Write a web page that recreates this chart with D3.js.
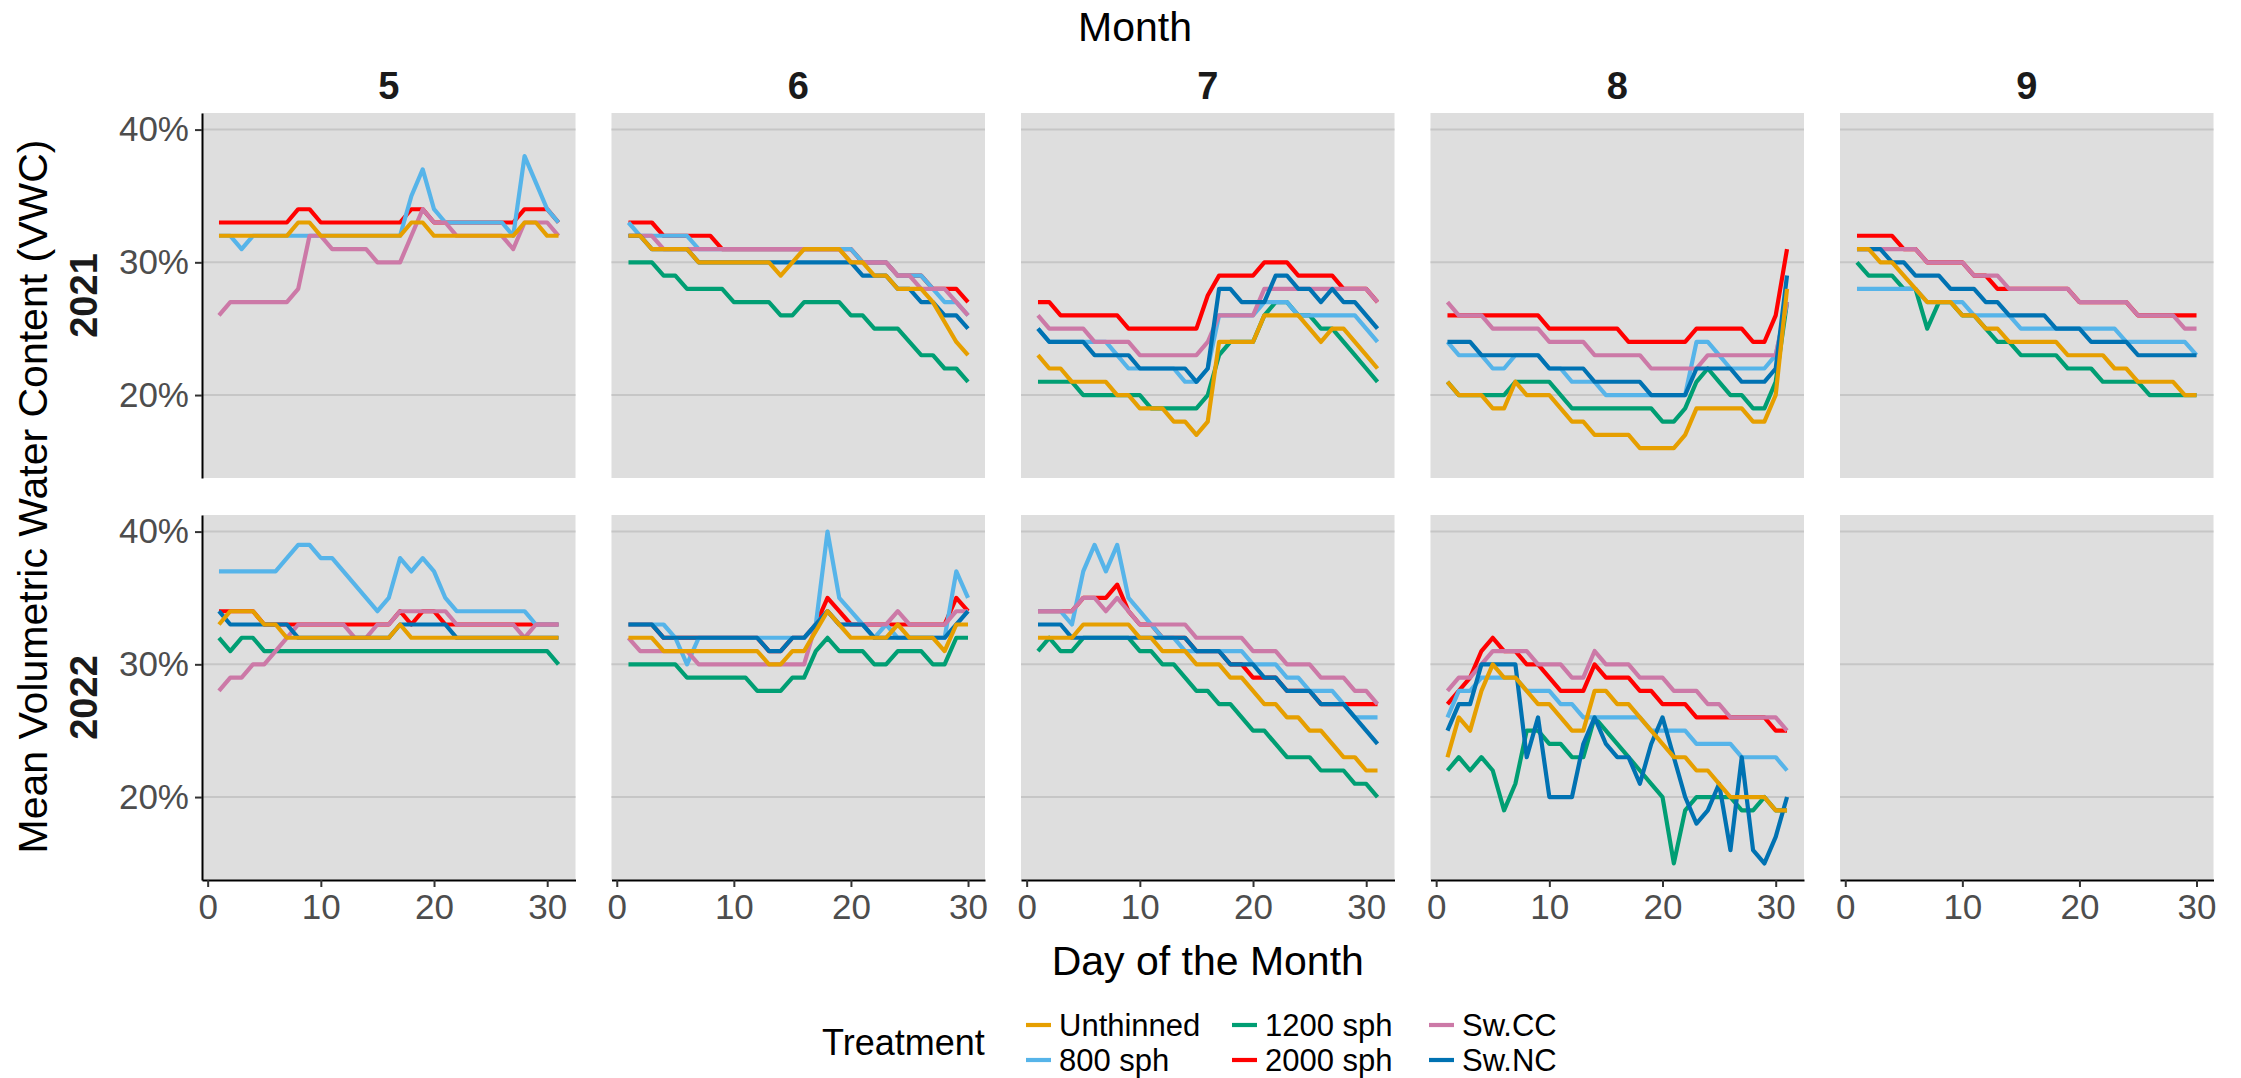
<!DOCTYPE html>
<html>
<head>
<meta charset="utf-8">
<script src="https://cdn.jsdelivr.net/npm/d3@7"></script>
<style>
  body { margin: 0; background: #fff; }
  svg { display: block; }
  text { font-family: "Liberation Sans", Arial, sans-serif; }
</style>
</head>
<body>
<svg id="chart"></svg>
<script>
// ---- data -----------------------------------------------------------
const treatments = ["Unthinned", "800 sph", "1200 sph", "2000 sph", "Sw.CC", "Sw.NC"];
const treatmentColors = ["#E69F00", "#56B4E9", "#009E73", "#FF0000", "#CC79A7", "#0072B2"];
// ggplot drew the groups in the raw factor order, so orange ends on top
const drawOrder = ["1200 sph", "2000 sph", "800 sph", "Sw.CC", "Sw.NC", "Unthinned"];

const years = [2021, 2022];
const months = [5, 6, 7, 8, 9];
const monthDays = [31, 30, 31, 31, 30];
const yTicks = [20, 30, 40];
const xTicks = [0, 10, 20, 30];

// mean VWC (%) by day of month
const may2021 = {
  "Unthinned": [32,32,32,32,32,32,32,33,33,32,32,32,32,32,32,32,32,33,33,32,32,32,32,32,32,32,32,33,33,32,32],
  "800 sph":   [32,32,31,32,32,32,32,32,32,32,32,32,32,32,32,32,32,35,37,34,33,33,33,33,33,33,32,38,36,34,33],
  "2000 sph":  [33,33,33,33,33,33,33,34,34,33,33,33,33,33,33,33,33,34,34,33,33,33,33,33,33,33,33,34,34,34,33],
  "Sw.CC":     [26,27,27,27,27,27,27,28,32,32,31,31,31,31,30,30,30,32,34,33,33,32,32,32,32,32,31,33,33,33,32]
};
const jun2021 = {
  "Unthinned": [32,32,31,31,31,31,30,30,30,30,30,30,30,29,30,31,31,31,31,30,30,29,29,28,28,28,27,25.5,24,23],
  "800 sph":   [33,32,32,32,32,32,31,31,31,31,31,31,31,31,31,31,31,31,31,31,30,30,30,29,29,29,28,27,27,26],
  "1200 sph":  [30,30,30,29,29,28,28,28,28,27,27,27,27,26,26,27,27,27,27,26,26,25,25,25,24,23,23,22,22,21],
  "2000 sph":  [33,33,33,32,32,32,32,32,31,31,31,31,31,31,31,31,31,31,31,31,30,30,30,29,29,29,28,28,28,27],
  "Sw.CC":     [32,32,32,31,31,31,31,31,31,31,31,31,31,31,31,31,31,31,31,30,30,30,30,29,29,28,28,28,27,26],
  "Sw.NC":     [32,32,31,31,31,31,30,30,30,30,30,30,30,30,30,30,30,30,30,30,29,29,29,28,28,27,27,26,26,25]
};
const jul2021 = {
  "Unthinned": [23,22,22,21,21,21,21,20,20,19,19,19,18,18,17,18,24,24,24,24,26,26,26,26,25,24,25,25,24,23,22],
  "800 sph":   [25,24,24,24,24,24,24,23,22,22,22,22,22,21,21,22,26,26,26,26,27,27,27,26,26,26,26,26,26,25,24],
  "1200 sph":  [21,21,21,21,20,20,20,20,20,20,19,19,19,19,19,20,23,24,24,24,26,27,27,26,26,25,25,24,23,22,21],
  "2000 sph":  [27,27,26,26,26,26,26,26,25,25,25,25,25,25,25,27.5,29,29,29,29,30,30,30,29,29,29,29,28,28,28,27],
  "Sw.CC":     [26,25,25,25,25,24,24,24,24,23,23,23,23,23,23,24,26,26,26,26,28,28,28,28,28,28,28,28,28,28,27],
  "Sw.NC":     [25,24,24,24,24,23,23,23,23,22,22,22,22,22,21,22,28,28,27,27,27,29,29,28,28,27,28,27,27,26,25]
};
const aug2021 = {
  "Unthinned": [21,20,20,20,19,19,21,20,20,20,19,18,18,17,17,17,17,16,16,16,16,17,19,19,19,19,19,18,18,20,28],
  "800 sph":   [24,23,23,23,22,22,23,23,23,22,22,21,21,21,20,20,20,20,20,20,20,20,24,24,23,22,22,22,22,23,27],
  "1200 sph":  [21,20,20,20,20,20,21,21,21,21,20,19,19,19,19,19,19,19,19,18,18,19,21,22,21,20,20,19,19,21,27],
  "2000 sph":  [26,26,26,26,26,26,26,26,26,25,25,25,25,25,25,25,24,24,24,24,24,24,25,25,25,25,25,24,24,26,31],
  "Sw.CC":     [27,26,26,26,25,25,25,25,25,24,24,24,24,23,23,23,23,23,22,22,22,22,22,23,23,23,23,23,23,23,27],
  "Sw.NC":     [24,24,24,23,23,23,23,23,23,22,22,22,22,21,21,21,21,21,20,20,20,20,22,22,22,22,21,21,21,22,29]
};
const sep2021 = {
  "Unthinned": [31,31,30,30,29,28,27,27,27,26,26,25,25,24,24,24,24,24,23,23,23,23,22,22,21,21,21,21,20,20],
  "800 sph":   [28,28,28,28,28,28,27,27,27,27,26,26,26,26,25,25,25,25,25,25,25,25,25,24,24,24,24,24,24,23],
  "1200 sph":  [30,29,29,29,28,28,25,27,27,26,26,25,24,24,23,23,23,23,22,22,22,21,21,21,21,20,20,20,20,20],
  "2000 sph":  [32,32,32,32,31,31,30,30,30,30,29,29,28,28,28,28,28,28,28,27,27,27,27,27,26,26,26,26,26,26],
  "Sw.CC":     [31,31,31,31,31,31,30,30,30,30,29,29,29,28,28,28,28,28,28,27,27,27,27,27,26,26,26,26,25,25],
  "Sw.NC":     [31,31,31,30,30,29,29,29,28,28,28,27,27,26,26,26,26,25,25,25,24,24,24,24,23,23,23,23,23,23]
};
const may2022 = {
  "Unthinned": [33,34,34,34,33,33,32,32,32,32,32,32,32,32,32,32,33,32,32,32,32,32,32,32,32,32,32,32,32,32,32],
  "800 sph":   [37,37,37,37,37,37,38,39,39,38,38,37,36,35,34,35,38,37,38,37,35,34,34,34,34,34,34,34,33,33,33],
  "1200 sph":  [32,31,32,32,31,31,31,31,31,31,31,31,31,31,31,31,31,31,31,31,31,31,31,31,31,31,31,31,31,31,30],
  "2000 sph":  [34,34,34,34,33,33,33,33,33,33,33,33,33,33,33,33,34,33,34,34,33,33,33,33,33,33,33,33,33,33,33],
  "Sw.CC":     [28,29,29,30,30,31,32,33,33,33,33,33,32,32,33,33,34,34,34,34,34,33,33,33,33,33,33,32,33,33,33],
  "Sw.NC":     [34,33,33,33,33,33,33,32,32,32,32,32,32,32,32,32,33,33,33,33,33,32,32,32,32,32,32,32,32,32,32]
};
const jun2022 = {
  "Unthinned": [32,32,32,31,31,31,31,31,31,31,31,31,30,30,31,31,32.5,34,33,32,32,32,32,33,32,32,32,31,33,33],
  "800 sph":   [33,33,33,33,32,30,32,32,32,32,32,32,32,32,32,32,33,40,35,34,33,32,33,32,32,32,32,32,37,35],
  "1200 sph":  [30,30,30,30,30,29,29,29,29,29,29,28,28,28,29,29,31,32,31,31,31,30,30,31,31,31,30,30,32,32],
  "2000 sph":  [33,33,33,32,32,32,32,32,32,32,32,32,31,31,32,32,33,35,34,33,33,33,33,33,33,33,33,33,35,34],
  "Sw.CC":     [32,31,31,31,31,31,30,30,30,30,30,30,30,30,30,30,33,34,33,33,33,33,33,34,33,33,33,33,34,34],
  "Sw.NC":     [33,33,33,32,32,32,32,32,32,32,32,32,31,31,32,32,33,34,33,33,33,32,32,32,32,32,32,32,33,34]
};
const jul2022 = {
  "Unthinned": [32,32,32,32,33,33,33,33,33,32,32,31,31,31,30,30,30,29,29,28,27,27,26,26,25,25,24,23,23,22,22],
  "800 sph":   [34,34,34,33,37,39,37,39,35,34,33,32,32,31,31,31,31,31,31,30,30,30,29,29,28,28,28,27,26,26,26],
  "1200 sph":  [31,32,31,31,32,32,32,32,32,31,31,30,30,29,28,28,27,27,26,25,25,24,23,23,23,22,22,22,21,21,20],
  "2000 sph":  [34,34,34,34,35,35,35,36,34,33,33,32,32,32,31,31,31,30,30,29,29,29,28,28,28,27,27,27,27,27,27],
  "Sw.CC":     [34,34,34,34,35,35,34,35,34,33,33,33,33,33,32,32,32,32,32,31,31,31,30,30,30,29,29,29,28,28,27],
  "Sw.NC":     [33,33,33,32,32,32,32,32,32,32,32,32,32,32,31,31,31,30,30,30,29,29,28,28,28,27,27,27,26,25,24]
};
const aug2022 = {
  "Unthinned": [23,26,25,28,30,29,29,28,27,27,26,25,25,28,28,27,27,26,25,24,23,23,22,22,21,20,20,20,20,19,19],
  "800 sph":   [26,28,28,29,29,29,29,28,28,28,27,27,26,26,26,26,26,26,25,25,25,25,24,24,24,24,23,23,23,23,22],
  "1200 sph":  [22,23,22,23,22,19,21,25,25,24,24,23,23,26,25,24,23,22,21,20,15,19,20,20,20,20,19,19,20,19,19],
  "2000 sph":  [27,28,29,31,32,31,31,30,30,29,28,28,28,30,29,29,29,28,28,27,27,27,26,26,26,26,26,26,26,25,25],
  "Sw.CC":     [28,29,29,30,31,31,31,31,30,30,30,29,29,31,30,30,30,29,29,29,28,28,28,27,27,26,26,26,26,26,25],
  "Sw.NC":     [25,27,27,30,30,30,30,23,26,20,20,20,24,26,24,23,23,21,24,26,23,20,18,19,21,16,23,16,15,17,20]
};
const sep2022 = {};

const panelData = [
  [may2021, jun2021, jul2021, aug2021, sep2021],
  [may2022, jun2022, jul2022, aug2022, sep2022]
];

// ---- layout ---------------------------------------------------------
const WIDTH = 2241;
const HEIGHT = 1078;
const PANEL_W = 373.5;
const PANEL_H = 365;
const COL_LEFT = months.map((m, i) => 202 + i * 409.5);
const ROW_TOP = [113, 515];
const FONT = '"Liberation Sans", Arial, sans-serif';

const color = d3.scaleOrdinal().domain(treatments).range(treatmentColors);

const svg = d3.select("#chart")
    .attr("width", WIDTH)
    .attr("height", HEIGHT)
    .attr("viewBox", [0, 0, WIDTH, HEIGHT]);

svg.append("rect").attr("width", WIDTH).attr("height", HEIGHT).attr("fill", "#fff");

// shared y scale, domain padded like ggplot (5% of 15..40)
const y = d3.scaleLinear().domain([13.75, 41.25]).range([PANEL_H, 0]);

years.forEach((year, r) => {
  months.forEach((month, c) => {
    const n = monthDays[c];
    const pad = 0.05 * (n - 1);
    const x = d3.scaleLinear().domain([1 - pad, n + pad]).range([0, PANEL_W]);
    const g = svg.append("g").attr("transform", `translate(${COL_LEFT[c]},${ROW_TOP[r]})`);

    g.append("rect")
        .attr("width", PANEL_W)
        .attr("height", PANEL_H)
        .attr("fill", "#DEDEDE");

    g.append("g")
      .selectAll("line")
      .data(yTicks)
      .join("line")
        .attr("x1", 0)
        .attr("x2", PANEL_W)
        .attr("y1", d => y(d))
        .attr("y2", d => y(d))
        .attr("stroke", "#C6C6C6")
        .attr("stroke-width", 2);

    const values = panelData[r][c];
    const series = drawOrder.filter(t => values[t]).map(t => ({
      name: t,
      points: values[t].map((v, i) => ({ day: i + 1, v }))
    }));

    const line = d3.line().x(d => x(d.day)).y(d => y(d.v));

    g.append("g")
        .attr("fill", "none")
        .attr("stroke-width", 4.2)
        .attr("stroke-linejoin", "round")
      .selectAll("path")
      .data(series)
      .join("path")
        .attr("stroke", d => color(d.name))
        .attr("d", d => line(d.points));

    if (c === 0) {
      const ax = g.append("g")
          .call(d3.axisLeft(y).tickValues(yTicks).tickFormat(d => d + "%")
            .tickSize(7).tickPadding(6).tickSizeOuter(0));
      styleAxis(ax);
    }
    if (r === 1) {
      const ax = g.append("g")
          .attr("transform", `translate(0,${PANEL_H})`)
          .call(d3.axisBottom(x).tickValues(xTicks)
            .tickSize(7).tickPadding(7).tickSizeOuter(0));
      styleAxis(ax);
    }

    if (r === 0) {
      svg.append("text")
          .attr("x", COL_LEFT[c] + PANEL_W / 2)
          .attr("y", 99)
          .attr("text-anchor", "middle")
          .attr("font-size", 38)
          .attr("font-weight", "bold")
          .attr("fill", "#1A1A1A")
          .text(month);
    }
  });

  // row strip on the left
  svg.append("text")
      .attr("transform", `translate(97,${ROW_TOP[r] + PANEL_H / 2}) rotate(-90)`)
      .attr("text-anchor", "middle")
      .attr("font-size", 38)
      .attr("font-weight", "bold")
      .attr("fill", "#1A1A1A")
      .text(year);
});

function styleAxis(ax) {
  ax.attr("font-family", FONT).attr("font-size", 35);
  ax.select(".domain").attr("stroke", "#000").attr("stroke-width", 2);
  ax.selectAll(".tick line").attr("stroke", "#333").attr("stroke-width", 2);
  ax.selectAll(".tick text").attr("fill", "#4D4D4D");
}

// titles
svg.append("text")
    .attr("x", 1135)
    .attr("y", 41)
    .attr("text-anchor", "middle")
    .attr("font-size", 41)
    .text("Month");

svg.append("text")
    .attr("x", (COL_LEFT[0] + COL_LEFT[4] + PANEL_W) / 2)
    .attr("y", 975)
    .attr("text-anchor", "middle")
    .attr("font-size", 41)
    .text("Day of the Month");

svg.append("text")
    .attr("transform", `translate(47,${(ROW_TOP[0] + ROW_TOP[1] + PANEL_H) / 2}) rotate(-90)`)
    .attr("text-anchor", "middle")
    .attr("font-size", 41)
    .text("Mean Volumetric Water Content (VWC)");

// legend, two rows filled column by column
const legend = svg.append("g");
legend.append("text")
    .attr("x", 822)
    .attr("y", 1055)
    .attr("font-size", 36)
    .text("Treatment");

const keyX = [1026, 1232, 1429];
const rowY = [1025, 1060];
const item = legend.selectAll("g.item")
  .data(treatments)
  .join("g")
    .attr("class", "item")
    .attr("transform", (d, i) => `translate(${keyX[Math.floor(i / 2)]},${rowY[i % 2]})`);

item.append("line")
    .attr("x1", 0)
    .attr("x2", 25)
    .attr("stroke", d => color(d))
    .attr("stroke-width", 4.2);

item.append("text")
    .attr("x", 33)
    .attr("dy", "0.35em")
    .attr("font-size", 31)
    .text(d => d);
</script>
</body>
</html>
